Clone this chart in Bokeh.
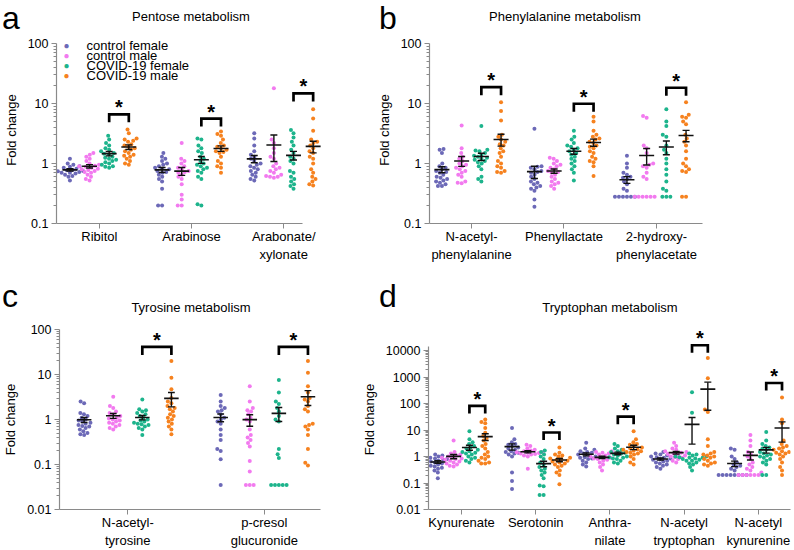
import numpy as np
from bokeh.plotting import figure
from bokeh.models import Range1d, FixedTicker, Label, Div
from bokeh.layouts import column, row
from bokeh.embed import file_html
from bokeh.resources import INLINE
from bokeh.core.properties import value

FONT = "Liberation Sans"
GROUPS = ["control female", "control male", "COVID-19 female", "COVID-19 male"]
COLORS = ["#6C69B7", "#F27AEF", "#1DB48C", "#F6821F"]

# ---------------- Panel a: Pentose metabolism ----------------
pentose_names = ["Ribitol", "Arabinose", "Arabonate/\nxylonate"]
ribitol_cf = [1.2, 1.0, 0.95, 0.9, 0.88, 0.85, 0.82, 0.8, 0.78, 0.77, 0.75, 0.74, 0.72, 0.7, 0.7, 0.68, 0.65, 0.62, 0.6, 0.52]
ribitol_cm = [1.5, 1.4, 1.3, 1.2, 1.1, 1.0, 0.95, 0.92, 0.9, 0.88, 0.85, 0.82, 0.8, 0.78, 0.75, 0.72, 0.7, 0.65, 0.6, 0.55, 0.52]
ribitol_vf = [2.9, 2.5, 2.2, 2.0, 1.8, 1.7, 1.6, 1.5, 1.45, 1.4, 1.3, 1.25, 1.2, 1.15, 1.1, 1.05, 1.0, 0.95, 0.9, 0.88, 0.85]
ribitol_vm = [3.7, 3.2, 2.6, 2.4, 2.5, 2.3, 2.1, 2.0, 1.9, 1.8, 1.7, 1.6, 1.5, 1.4, 1.35, 1.3, 1.2, 1.1, 1.0, 0.95]
arabinose_cf = [1.5, 1.3, 1.2, 1.1, 1.0, 0.95, 0.9, 0.85, 0.82, 0.8, 0.75, 0.72, 0.7, 0.65, 0.6, 0.55, 0.5, 0.38, 0.2, 0.2]
arabinose_cm = [2.2, 1.2, 1.1, 1.0, 0.9, 0.85, 0.8, 0.75, 0.72, 0.7, 0.65, 0.6, 0.55, 0.45, 0.3, 0.25, 0.2, 0.2]
arabinose_vf = [2.6, 2.5, 2.0, 1.8, 1.6, 1.5, 1.3, 1.2, 1.1, 1.0, 0.95, 0.9, 0.85, 0.8, 0.75, 0.7, 0.6, 0.55, 0.21, 0.2]
arabinose_vm = [3.4, 3.1, 2.9, 2.5, 2.2, 2.0, 1.9, 1.8, 1.7, 1.6, 1.55, 1.5, 1.3, 1.1, 1.0, 0.9, 0.85, 0.7]
arabonate_cf = [3.2, 2.6, 2.0, 1.6, 1.4, 1.3, 1.2, 1.1, 1.0, 0.95, 0.9, 0.85, 0.8, 0.75, 0.7, 0.65, 0.6, 0.55, 0.52]
arabonate_cm = [18, 2.5, 2.2, 1.8, 1.5, 1.3, 1.2, 1.0, 0.9, 0.85, 0.8, 0.75, 0.7, 0.65, 0.62, 0.6, 0.6, 0.58]
arabonate_vf = [3.6, 3.2, 2.7, 2.3, 2.0, 1.7, 1.5, 1.3, 1.2, 1.1, 1.0, 0.75, 0.7, 0.6, 0.55, 0.5, 0.45, 0.42, 0.38]
arabonate_vm = [8, 5.6, 3.5, 2.5, 2.3, 2.2, 2.0, 1.8, 1.6, 1.5, 1.3, 1.2, 1.0, 0.8, 0.7, 0.6, 0.55, 0.5, 0.45, 0.43]
pentose_brackets = [6.6, 5.6, 14.7]

# ---------------- Panel b: Phenylalanine metabolism ----------------
phenyl_names = ["N-acetyl-\nphenylalanine", "Phenyllactate", "2-hydroxy-\nphenylacetate"]
nacphe_cf = [1.75, 1.7, 1.5, 1.0, 0.9, 0.85, 0.8, 0.75, 0.72, 0.7, 0.65, 0.6, 0.58, 0.55, 0.52, 0.5, 0.48, 0.45, 0.42, 0.42]
nacphe_cm = [4.3, 1.8, 1.5, 1.3, 1.2, 1.1, 1.0, 0.95, 0.9, 0.85, 0.8, 0.75, 0.7, 0.65, 0.6, 0.5, 0.48, 0.47]
nacphe_vf = [4.2, 1.7, 1.65, 1.6, 1.5, 1.4, 1.35, 1.3, 1.25, 1.2, 1.15, 1.1, 1.05, 1.0, 0.9, 0.8, 0.6, 0.55, 0.5]
nacphe_vm = [10.5, 7.5, 5.2, 3.0, 2.8, 2.5, 2.3, 2.1, 2.0, 1.8, 1.6, 1.5, 1.3, 1.1, 1.0, 0.9, 0.85, 0.75, 0.72, 0.7]
phlac_cf = [3.8, 0.9, 0.88, 0.85, 0.8, 0.75, 0.72, 0.7, 0.65, 0.6, 0.55, 0.5, 0.48, 0.45, 0.42, 0.4, 0.38, 0.35, 0.25, 0.19]
phlac_cm = [1.25, 1.2, 1.1, 1.0, 0.95, 0.9, 0.85, 0.8, 0.75, 0.72, 0.7, 0.65, 0.6, 0.55, 0.5, 0.48, 0.45, 0.42, 0.38]
phlac_vf = [3.5, 2.8, 2.5, 2.2, 2.0, 1.9, 1.8, 1.7, 1.6, 1.5, 1.4, 1.3, 1.2, 1.1, 1.0, 0.9, 0.8, 0.7, 0.52]
phlac_vm = [6.0, 5.0, 3.5, 3.0, 2.8, 2.6, 2.5, 2.3, 2.2, 2.0, 1.9, 1.8, 1.6, 1.5, 1.3, 1.2, 1.1, 1.05, 0.9, 0.62]
hpa_cf = [1.35, 1.0, 0.85, 0.7, 0.65, 0.6, 0.58, 0.55, 0.5, 0.45, 0.38, 0.35, 0.28, 0.28, 0.28, 0.28, 0.28, 0.28]
hpa_cm = [6.2, 5.8, 2.0, 1.8, 1.5, 1.0, 0.95, 0.9, 0.85, 0.7, 0.6, 0.55, 0.28, 0.28, 0.28, 0.28, 0.28, 0.28]
hpa_vf = [8, 5, 4.2, 3.0, 2.8, 2.0, 1.7, 1.5, 1.2, 1.0, 0.8, 0.65, 0.5, 0.38, 0.35, 0.28, 0.28, 0.28]
hpa_vm = [10.5, 6.5, 6.0, 5.8, 5.0, 4.5, 3.0, 2.6, 2.3, 2.0, 1.6, 1.2, 1.0, 0.9, 0.8, 0.75, 0.72, 0.28, 0.28]
phenyl_brackets = [18.7, 9.9, 18.3]

# ---------------- Panel c: Tyrosine metabolism ----------------
tyr_names = ["N-acetyl-\ntyrosine", "p-cresol\nglucuronide"]
nactyr_cf = [2.5, 2.3, 1.4, 1.3, 1.2, 1.1, 1.0, 0.95, 0.9, 0.85, 0.8, 0.75, 0.72, 0.7, 0.65, 0.6, 0.55, 0.5, 0.47, 0.45]
nactyr_cm = [3.2, 2.0, 1.8, 1.5, 1.4, 1.3, 1.2, 1.1, 1.05, 1.0, 0.95, 0.9, 0.85, 0.8, 0.75, 0.7, 0.65, 0.6]
nactyr_vf = [2.8, 1.7, 1.6, 1.5, 1.4, 1.3, 1.2, 1.1, 1.0, 0.95, 0.9, 0.85, 0.8, 0.78, 0.75, 0.7, 0.65, 0.6, 0.45]
nactyr_vm = [20, 8.5, 4.7, 3.0, 2.5, 2.3, 2.0, 1.8, 1.7, 1.5, 1.3, 1.2, 1.1, 1.0, 0.9, 0.8, 0.7, 0.6, 0.47]
pcg_cf = [3.5, 2.5, 2.0, 1.8, 1.6, 1.5, 1.3, 1.1, 1.0, 0.9, 0.8, 0.6, 0.45, 0.35, 0.22, 0.2, 0.13, 0.035]
pcg_cm = [5.5, 2.5, 1.8, 1.6, 1.5, 1.3, 1.1, 1.0, 0.9, 0.6, 0.45, 0.4, 0.35, 0.3, 0.25, 0.12, 0.07, 0.035, 0.035, 0.035]
pcg_vf = [7.5, 4.0, 2.5, 2.2, 1.8, 1.5, 1.2, 1.0, 0.9, 0.22, 0.17, 0.14, 0.035, 0.035, 0.035, 0.035, 0.035]
pcg_vm = [20, 11, 5.5, 4.0, 3.0, 2.8, 2.5, 2.0, 1.7, 1.5, 0.8, 0.75, 0.7, 0.6, 0.45, 0.22, 0.11, 0.095]
tyr_brackets = [41, 41]

# ---------------- Panel d: Tryptophan metabolism ----------------
trp_names = ["Kynurenate", "Serotonin", "Anthra-\nnilate", "N-acetyl\ntryptophan", "N-acetyl\nkynurenine"]
kyna_cf = [1.2, 1.1, 1.0, 0.9, 0.85, 0.8, 0.75, 0.7, 0.65, 0.6, 0.55, 0.5, 0.45, 0.42, 0.38, 0.35, 0.3, 0.25, 0.15]
kyna_cm = [4.0, 1.5, 1.3, 1.2, 1.1, 1.0, 0.95, 0.9, 0.85, 0.8, 0.75, 0.7, 0.65, 0.6, 0.55, 0.5, 0.45, 0.42]
kyna_vf = [9, 4.5, 3.5, 3.0, 2.5, 2.2, 2.0, 1.8, 1.6, 1.5, 1.4, 1.3, 1.2, 1.0, 0.9, 0.8, 0.7, 0.6]
kyna_vm = [25, 20, 18, 12, 8, 6, 5, 4, 3, 2.5, 2, 1.5, 1.2, 1.0, 0.9, 0.8, 0.7, 0.6, 0.55, 0.55]
sero_cf = [12, 4.5, 3.5, 3.0, 2.8, 2.5, 2.2, 2.0, 1.8, 1.6, 1.5, 1.4, 1.3, 1.2, 1.0, 0.25, 0.12, 0.06]
sero_cm = [2.8, 2.5, 2.0, 1.8, 1.7, 1.6, 1.5, 1.45, 1.4, 1.35, 1.3, 1.25, 1.2, 1.1, 1.0, 0.35]
sero_vf = [1.7, 1.5, 1.2, 1.0, 0.8, 0.6, 0.5, 0.4, 0.35, 0.3, 0.25, 0.2, 0.15, 0.08, 0.075, 0.035, 0.035]
sero_vm = [2.2, 1.4, 1.2, 1.1, 1.0, 0.9, 0.85, 0.8, 0.75, 0.7, 0.65, 0.6, 0.55, 0.5, 0.45, 0.4, 0.3, 0.25, 0.2, 0.09]
anth_cf = [3.3, 2.0, 1.8, 1.6, 1.5, 1.4, 1.3, 1.2, 1.1, 1.0, 0.95, 0.9, 0.85, 0.8, 0.7, 0.6, 0.5, 0.42]
anth_cm = [1.6, 1.5, 1.4, 1.3, 1.2, 1.1, 1.0, 0.95, 0.9, 0.85, 0.8, 0.75, 0.7, 0.6, 0.5, 0.4, 0.3]
anth_vf = [3.0, 2.5, 2.0, 1.8, 1.6, 1.5, 1.4, 1.3, 1.2, 1.1, 1.0, 0.95, 0.9, 0.85, 0.8, 0.7, 0.6, 0.55]
anth_vm = [9, 4.5, 3.5, 3.0, 2.8, 2.5, 2.2, 2.0, 1.9, 1.8, 1.7, 1.6, 1.5, 1.4, 1.3, 1.2, 1.0, 0.8, 0.6, 0.5]
natrp_cf = [1.5, 1.3, 1.2, 1.1, 1.0, 0.95, 0.9, 0.85, 0.8, 0.75, 0.7, 0.65, 0.6, 0.55, 0.5, 0.45, 0.4, 0.35]
natrp_cm = [3.3, 2.5, 2.0, 1.8, 1.6, 1.5, 1.4, 1.3, 1.25, 1.2, 1.1, 1.0, 0.95, 0.9, 0.8, 0.7, 0.6]
natrp_vf = [270, 45, 1.3, 1.2, 1.1, 1.0, 1.0, 0.95, 0.9, 0.9, 0.85, 0.8, 0.75, 0.7, 0.7, 0.6, 0.55, 0.5, 0.4, 0.3]
natrp_vm = [5300, 900, 60, 48, 4.5, 2.5, 1.5, 1.3, 1.2, 1.1, 1.0, 0.9, 0.8, 0.7, 0.6, 0.55, 0.5, 0.45]
nakyn_cf = [2.0, 1.8, 1.0, 0.8, 0.6, 0.5, 0.45, 0.4, 0.35, 0.3, 0.2, 0.2, 0.2, 0.2, 0.2, 0.2, 0.2, 0.2]
nakyn_cm = [6.5, 4.0, 2.5, 1.5, 1.2, 1.0, 0.8, 0.6, 0.5, 0.4, 0.35, 0.3, 0.25, 0.2, 0.2, 0.2, 0.2, 0.2, 0.2]
nakyn_vf = [8.5, 4.0, 3.0, 2.5, 2.2, 2.0, 1.8, 1.5, 1.3, 1.2, 1.1, 1.0, 0.9, 0.8, 0.7, 0.6, 0.5, 0.2, 0.2]
nakyn_vm = [170, 25, 18, 4.0, 3.0, 2.5, 2.2, 2.0, 1.8, 1.6, 1.5, 1.4, 1.3, 1.2, 1.0, 0.8, 0.6, 0.4, 0.3, 0.2]
trp_brackets = [82, 8.1, 32, 16000, 600]

# --------------------------------------------------------------
DOT = 4.0          # dot diameter (px)
GROUP_STEP = 0.213 # spacing between the four groups (category units)
GRAY = "#8a8a8a"


def swarm_offsets(vals, ppd, d):
    ys = np.log10(np.asarray(vals, float)) * ppd
    xs = np.zeros(len(ys))
    placed = []
    for i in np.argsort(ys, kind="stable"):
        y = ys[i]
        forb, cands = [], [0.0]
        for px, py in placed:
            dy = abs(py - y)
            if dy < d:
                w = np.sqrt(d * d - dy * dy)
                forb.append((px - w, px + w))
                cands += [px - w, px + w]
        cands.sort(key=lambda c: (abs(c), c))
        for c in cands:
            if all(not (lo + 1e-6 < c < hi - 1e-6) for lo, hi in forb):
                xs[i] = c
                break
        placed.append((xs[i], y))
    return xs


def decade_ticks(lo, hi):
    k0, k1 = int(round(np.log10(lo))), int(round(np.log10(hi)))
    major = [10.0 ** k for k in range(k0, k1 + 1)]
    minor = [m * 10.0 ** k for k in range(k0, k1 + 1) for m in range(2, 10) if m * 10.0 ** k <= hi * 1.0001]
    return major, minor


def fmt(v):
    return ("%.2f" % v).rstrip("0").rstrip(".")


def header(width, height, letter, letter_left, letter_baseline, title, title_cx, title_cy):
    html = (
        f'<div style="position:relative;width:{width}px;height:{height}px;'
        f"font-family:'{FONT}',Arial,sans-serif;color:#000;\">"
        f'<span style="position:absolute;left:{letter_left}px;top:{letter_baseline - 17}px;'
        f'font-size:32px;line-height:12px;white-space:nowrap;">{letter}</span>'
        f'<span style="position:absolute;left:{title_cx - 150}px;width:300px;top:{title_cy - 8}px;'
        f'font-size:13px;line-height:16px;text-align:center;white-space:nowrap;">{title}</span>'
        f'</div>'
    )
    return Div(text=html, width=width, height=height, margin=(0, 0, 0, 0))


def make_panel(names, data, brackets, size, borders, x_left, unit_px, y_range, y_bounds,
               x_bounds, legend_rows=None):
    W, H = size
    l, r, t, b = borders
    fw, fh = W - l - r, H - t - b
    ylo, yhi = y_range
    ppd = fh / (np.log10(yhi) - np.log10(ylo))
    p = figure(width=W, height=H, title=None,
               x_range=Range1d(x_left, x_left + fw / unit_px),
               y_range=Range1d(ylo, yhi), y_axis_type="log",
               output_backend="svg", toolbar_location=None,
               min_border_left=l, min_border_right=r, min_border_top=t, min_border_bottom=b)
    p.outline_line_color = None
    p.xgrid.visible = False
    p.ygrid.visible = False
    p.background_fill_color = "white"
    p.border_fill_color = "white"

    # points
    for gi in range(4):
        xs, ys = [], []
        for ci, groups in enumerate(data):
            vals = groups[gi]
            offs = swarm_offsets(vals, ppd, DOT)
            xs += list(ci + (gi - 1.5) * GROUP_STEP + offs / unit_px)
            ys += list(vals)
        p.scatter(xs, ys, size=DOT, color=COLORS[gi], line_color=None)

    # mean +- SEM
    mx0, mx1, my, ex, elo, ehi, cx0, cx1, cy = [], [], [], [], [], [], [], [], []
    half_mean = 7.5 / unit_px
    half_cap = 3.5 / unit_px
    for ci, groups in enumerate(data):
        for gi in range(4):
            v = np.asarray(groups[gi], float)
            m = v.mean()
            s = v.std(ddof=1) / np.sqrt(len(v))
            xc = ci + (gi - 1.5) * GROUP_STEP
            lo = max(m - s, ylo * 1.01)
            hi = m + s
            mx0.append(xc - half_mean); mx1.append(xc + half_mean); my.append(m)
            ex.append(xc); elo.append(lo); ehi.append(hi)
            for yy in (lo, hi):
                cx0.append(xc - half_cap); cx1.append(xc + half_cap); cy.append(yy)
    p.segment(mx0, my, mx1, my, line_color="#111111", line_width=1.6)
    p.segment(ex, elo, ex, ehi, line_color="#111111", line_width=1.4)
    p.segment(cx0, cy, cx1, cy, line_color="#111111", line_width=1.4)

    # significance brackets
    leg = 10 ** (8.0 / ppd)
    bx, by, sx, sy = [], [], [], []
    for ci, top in enumerate(brackets):
        xf = ci + 0.5 * GROUP_STEP
        xm = ci + 1.5 * GROUP_STEP
        bx.append([xf, xf, xm, xm])
        by.append([top / leg, top, top, top / leg])
        sx.append((xf + xm) / 2)
        sy.append(top)
    p.multi_line(bx, by, line_color="black", line_width=2.7, line_join="miter")
    p.text(sx, sy, text=["*"] * len(sx), text_align="center", text_baseline="bottom",
           text_font=value(FONT), text_font_size="20px", text_font_style="bold",
           text_color="black", y_offset=4)

    # axes
    xa = p.xaxis[0]
    xa.ticker = FixedTicker(ticks=list(range(len(names))))
    xa.major_label_overrides = {i: n for i, n in enumerate(names)}
    xa.bounds = x_bounds
    ya = p.yaxis[0]
    major, minor = decade_ticks(y_bounds[0], y_bounds[1])
    ya.ticker = FixedTicker(ticks=major, minor_ticks=minor)
    ya.major_label_overrides = {v: fmt(v) for v in major}
    ya.bounds = y_bounds
    ya.axis_label = "Fold change"
    ya.axis_label_text_font = FONT
    ya.axis_label_text_font_size = "13px"
    ya.axis_label_text_font_style = "normal"
    ya.axis_label_text_color = "black"
    ya.axis_label_standoff = 6
    for ax in (xa, ya):
        ax.axis_line_color = GRAY
        ax.axis_line_width = 1.2
        ax.major_tick_line_color = GRAY
        ax.minor_tick_line_color = GRAY
        ax.major_tick_out = 5
        ax.major_tick_in = 0
        ax.minor_tick_out = 3
        ax.minor_tick_in = 0
        ax.major_label_text_font = FONT
        ax.major_label_text_color = "black"
    xa.major_label_text_font_size = "13px"
    xa.major_label_standoff = 0
    ya.major_label_text_font_size = "12.5px"
    ya.major_label_standoff = 3

    # legend (text annotations inside the frame, screen units from frame bottom-left)
    if legend_rows is not None:
        dot_x, text_x, ys = legend_rows
        for gi in range(4):
            p.add_layout(Label(x=dot_x, y=ys[gi], x_units="screen", y_units="screen",
                               text="\u25CF", text_font=FONT, text_font_size="10px",
                               text_color=COLORS[gi], text_align="center",
                               text_baseline="middle"))
            p.add_layout(Label(x=text_x, y=ys[gi], x_units="screen", y_units="screen",
                               text=GROUPS[gi], text_font=FONT, text_font_size="13px",
                               text_color="black", text_align="left",
                               text_baseline="middle"))
    return p


TOP_EXT = 10 ** (7 / 60.0)   # frame extends 7 px above the 100 tick in panels a/b

pa = make_panel(pentose_names,
                [[ribitol_cf, ribitol_cm, ribitol_vf, ribitol_vm],
                 [arabinose_cf, arabinose_cm, arabinose_vf, arabinose_vm],
                 [arabonate_cf, arabonate_cm, arabonate_vf, arabonate_vm]],
                pentose_brackets, (350, 230), (55, 15, 0, 43), -0.465, 92.5,
                (0.1, 100 * TOP_EXT), (0.1, 100), (-0.465, 2.205),
                legend_rows=(10, 30, [178, 168, 158, 148.5]))

pb = make_panel(phenyl_names,
                [[nacphe_cf, nacphe_cm, nacphe_vf, nacphe_vm],
                 [phlac_cf, phlac_cm, phlac_vf, phlac_vm],
                 [hpa_cf, hpa_cm, hpa_vf, hpa_vm]],
                phenyl_brackets, (444, 230), (79, 82, 0, 43), -0.454, 92.5,
                (0.1, 100 * TOP_EXT), (0.1, 100), (-0.454, 2.497))

pc = make_panel(tyr_names,
                [[nactyr_cf, nactyr_cm, nactyr_vf, nactyr_vm],
                 [pcg_cf, pcg_cm, pcg_vf, pcg_vm]],
                tyr_brackets, (350, 232), (50, 15, 11, 41), -0.5, 141,
                (0.01, 100), (0.01, 100), (-0.5, 1.41))

pd_ = make_panel(trp_names,
                 [[kyna_cf, kyna_cm, kyna_vf, kyna_vm],
                  [sero_cf, sero_cm, sero_vf, sero_vm],
                  [anth_cf, anth_cm, anth_vf, anth_vm],
                  [natrp_cf, natrp_cm, natrp_vf, natrp_vm],
                  [nakyn_cf, nakyn_cm, nakyn_vf, nakyn_vm]],
                 trp_brackets, (444, 232), (78, 4, 0, 41), -0.445, 74.2,
                 (0.01, 10 ** 4.8), (0.01, 15000), "auto")

ha = header(350, 36, "a", 2, 29, "Pentose metabolism", 191, 17)
hb = header(444, 36, "b", 29, 29, "Phenylalanine metabolism", 215, 17)
hc = header(350, 52, "c", 2, 41, "Tyrosine metabolism", 191, 42)
hd = header(444, 52, "d", 29, 41, "Tryptophan metabolism", 260, 42)

layout = column(row(ha, hb), row(pa, pb), row(hc, hd), row(pc, pd_))
open("out.html", "w").write(file_html(layout, INLINE))
